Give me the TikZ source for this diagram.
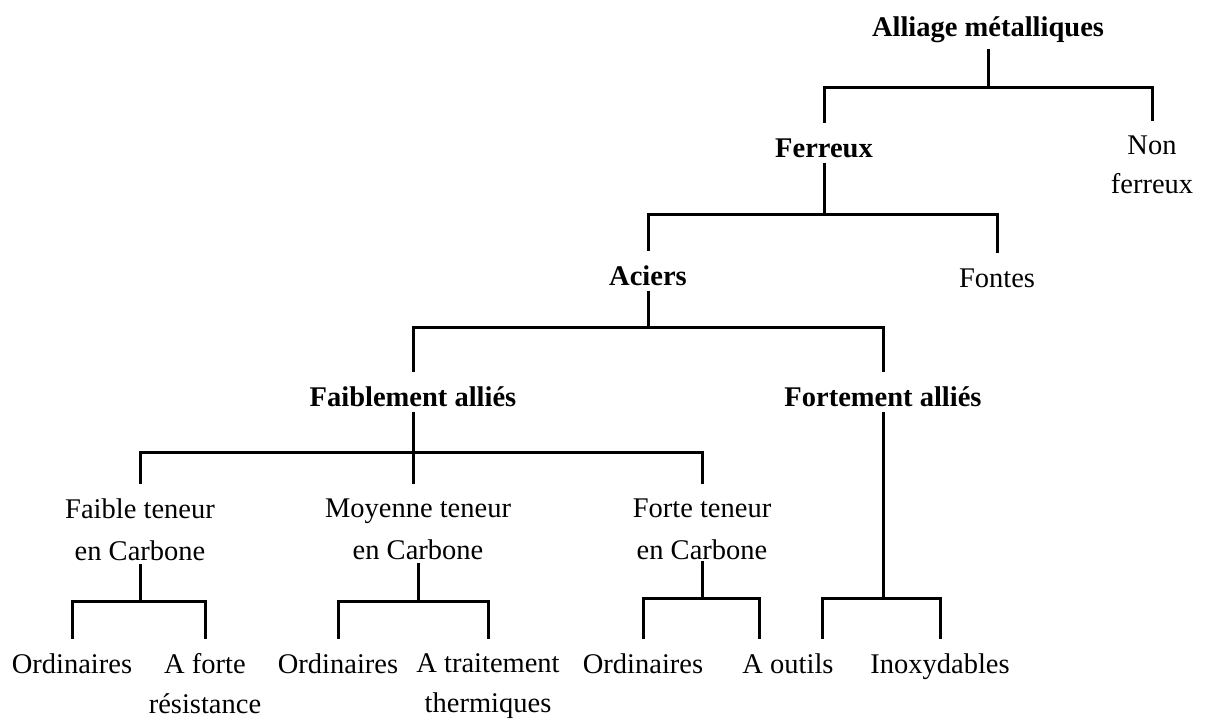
\documentclass[tikz,border=0pt]{standalone}
\usepackage{fontspec}
\setmainfont{Liberation Serif}
\usepackage{tikz}
\usetikzlibrary{calc}
\newcommand{\treefont}{\fontsize{14.25}{21}\selectfont}

\begin{document}
\begin{tikzpicture}[x=0.5pt, y=-0.5pt,
    lbl/.style={inner sep=0pt, text height=17pt, text depth=3pt, anchor=base, font=\treefont},
    cat/.style={lbl, font=\treefont\bfseries},
    lbl2/.style={align=center, inner xsep=0pt, inner ysep=7.25pt, anchor=north, font=\treefont},
    branch/.style={line width=1.5pt}]
  \useasboundingbox (0,0) rectangle (1205,720);
  % Alliage -> Ferreux / Non ferreux
  \node[cat, text depth=6.5pt] (alliage) at (988,36) {Alliage métalliques};
  \node[cat] (ferreux) at (824,157) {Ferreux};
  \node[lbl2] (nonfer) at (1152,121) {Non\\[-1.5pt]ferreux};
  \coordinate (j0) at (988,87);
  \draw[branch] (alliage.south) -- (j0);
  \draw[branch] (ferreux.north) |- (j0) -| (nonfer.north);
  % Ferreux -> Aciers / Fontes
  \node[cat] (aciers) at (648,285) {Aciers};
  \node[lbl] (fontes) at (997,287) {Fontes};
  \coordinate (j1) at (824,214);
  \draw[branch] (ferreux.south) -- (j1);
  \draw[branch] (aciers.north) |- (j1) -| (fontes.north);
  % Aciers -> faiblement / fortement allies
  \node[cat] (faibl) at (413,406) {Faiblement alliés};
  \node[cat] (fortl) at (883,406) {Fortement alliés};
  \coordinate (j2) at (648,327);
  \draw[branch] (aciers.south) -- (j2);
  \draw[branch] (faibl.north) |- (j2) -| (fortl.north);
  % teneur en carbone
  \node[lbl2] (ft) at (140,484) {Faible teneur\\en Carbone};
  \node[lbl2] (mt) at (418,484) {Moyenne teneur\\en Carbone};
  \node[lbl2] (fot) at (702,484) {Forte teneur\\en Carbone};
  \coordinate (j3) at (413,452);
  \draw[branch] (faibl.south) -- (faibl.south |- mt.north);
  \draw[branch] (ft.north) |- (j3) -| (fot.north);
  % Leaves
  \node[lbl] (o1) at (72,673) {Ordinaires};
  \node[lbl2] (af) at (205,639) {A forte\\[-1pt]résistance};
  \node[lbl] (o2) at (338,673) {Ordinaires};
  \node[lbl2] (at) at (488,639) {A traitement\\[-1pt]thermiques};
  \node[lbl] (o3) at (643,673) {Ordinaires};
  \node[lbl] (ao) at (788,673) {A outils};
  \node[lbl] (ino) at (940,673) {Inoxydables};
  \coordinate (j4) at (140,601);
  \coordinate (j5) at (418,601);
  \coordinate (j6) at (702,598);
  \coordinate (j7) at (883,598);
  \draw[branch, shorten <=-6pt] (ft.south) -- (j4);
  \draw[branch, shorten <=-6pt] (mt.south) -- (j5);
  \draw[branch, shorten <=-7pt] (fot.south) -- (j6);
  \draw[branch] (fortl.south) -- (j7);
  \draw[branch] (o1.north) |- (j4) -| (af.north);
  \draw[branch] (o2.north) |- (j5) -| (at.north);
  \draw[branch] (o3.north) |- (j6) -| ($(ao.north west)+(17,0)$);
  \draw[branch] ($(ao.north east)+(-11,0)$) |- (j7) -| (ino.north);
\end{tikzpicture}
\end{document}
